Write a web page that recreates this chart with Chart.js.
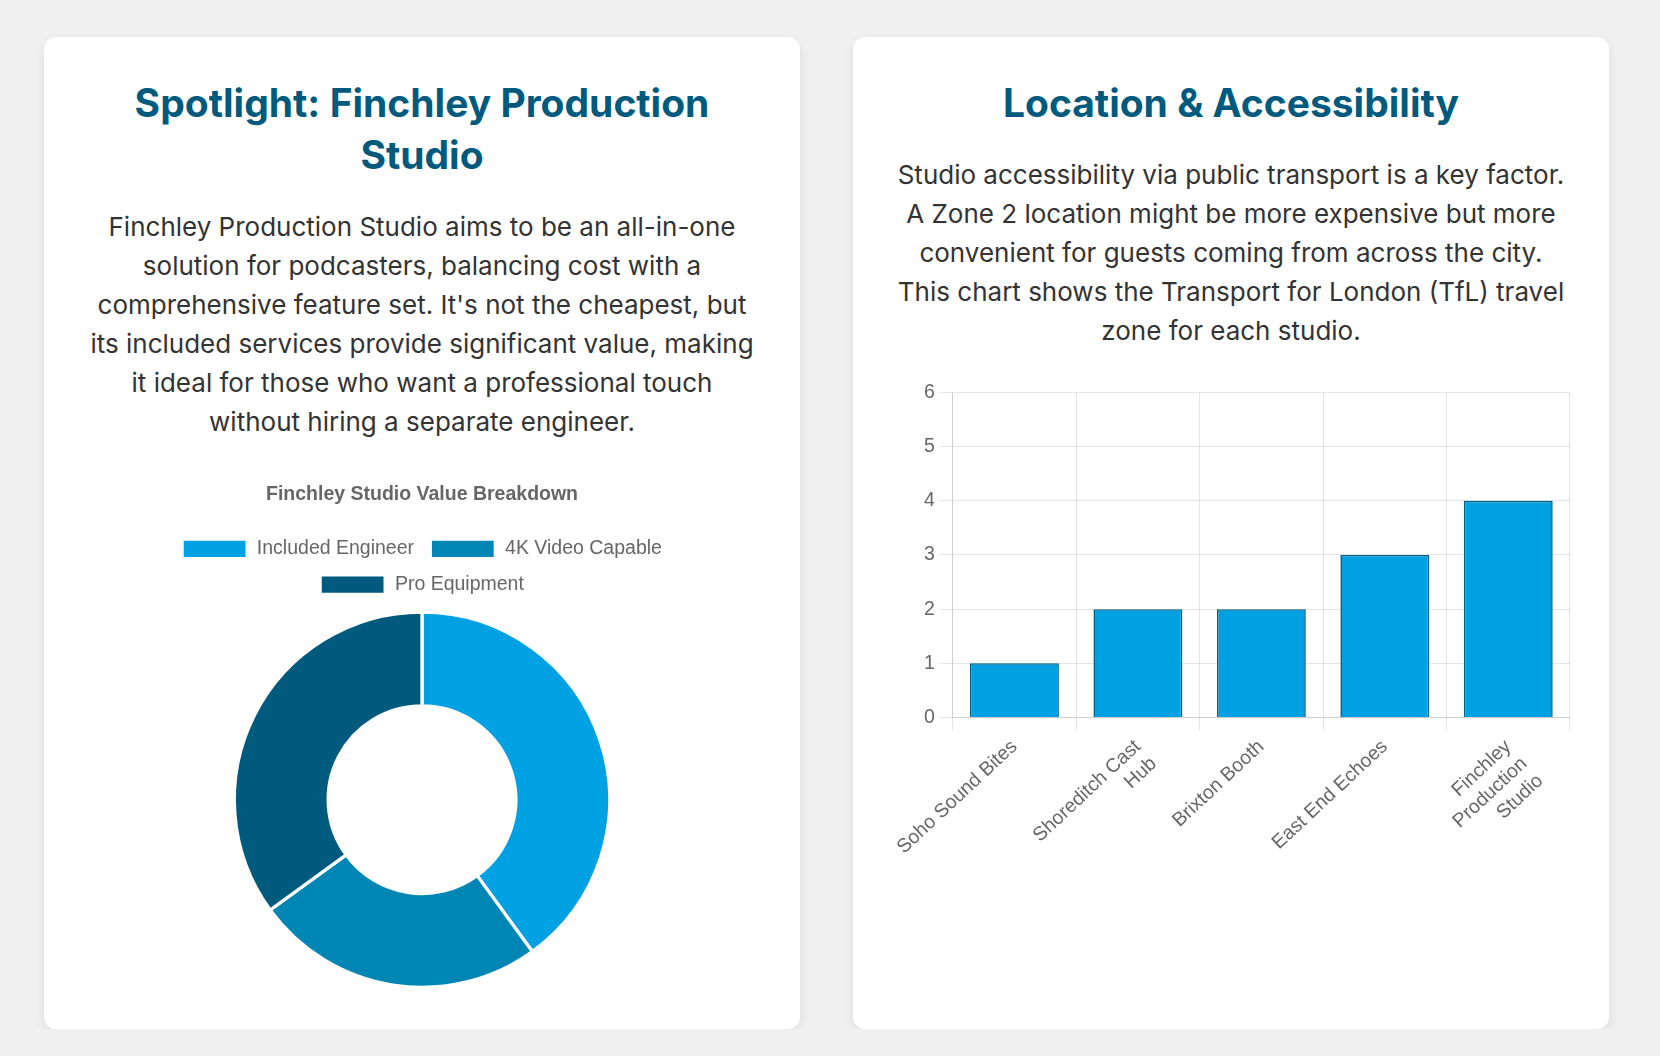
<!DOCTYPE html>
<html lang="en">
<head>
<meta charset="utf-8">
<title>London Podcast Studios</title>
<script src="https://cdn.jsdelivr.net/npm/chart.js@4.4.1/dist/chart.umd.min.js"></script>
<style>
  html, body { margin: 0; padding: 0; }
  body {
    background: #f0f0f0;
    font-family: Inter, "Noto Sans", sans-serif;
    color: #333;
  }
  .wrap {
    display: grid;
    grid-template-columns: 756px 756px;
    column-gap: 53px;
    padding: 37px 0 0 44px;
  }
  .card {
    background: #fff;
    border-radius: 12px;
    box-shadow: 0 4px 12px rgba(0, 0, 0, 0.08);
    padding: 40px 39px 39px;
    height: 992px;
    box-sizing: border-box;
    text-align: center;
  }
  .card h2 {
    margin: 0 0 26px;
    font-size: 39px;
    line-height: 52px;
    font-weight: 700;
    color: #005a7d;
  }
  .card p {
    margin: 0 0 26px;
    font-size: 26px;
    line-height: 39px;
  }
  .chart-box { position: relative; height: 522px; }
</style>
</head>
<body>
<div class="wrap">
  <div class="card">
    <h2>Spotlight: Finchley Production Studio</h2>
    <p>Finchley Production Studio aims to be an all-in-one solution for podcasters, balancing cost with a comprehensive feature set. It's not the cheapest, but its included services provide significant value, making it ideal for those who want a professional touch without hiring a separate engineer.</p>
    <div class="chart-box"><canvas id="valueChart"></canvas></div>
  </div>
  <div class="card">
    <h2>Location &amp; Accessibility</h2>
    <p>Studio accessibility via public transport is a key factor. A Zone 2 location might be more expensive but more convenient for guests coming from across the city. This chart shows the Transport for London (TfL) travel zone for each studio.</p>
    <div class="chart-box"><canvas id="zoneChart"></canvas></div>
  </div>
</div>
<script>
// donut: what the Finchley price includes
const valueLabels = ["Included Engineer", "4K Video Capable", "Pro Equipment"];
const valueShares = [40, 25, 35];
const valueColors = ["#00a1e2", "#0086b4", "#005a7d"];

// bars: TfL zone per studio (long names wrapped)
const studioNames = ["Soho Sound Bites", ["Shoreditch Cast", "Hub"], "Brixton Booth", "East End Echoes", ["Finchley", "Production", "Studio"]];
const tflZones = [1, 2, 2, 3, 4];
const zoneMax = 6;

Chart.defaults.font.size = 19.5;
Chart.defaults.color = "#666";

// a bit more room under the legend
const legendGap = {
  id: 'legendGap',
  beforeInit(chart) {
    const origFit = chart.legend.fit;
    chart.legend.fit = function () {
      origFit.call(this);
      this.height += 6;
    };
  }
};

new Chart(document.getElementById("valueChart"), {
  type: 'doughnut',
  data: {
    labels: valueLabels,
    datasets: [{
      data: valueShares,
      backgroundColor: valueColors,
      borderColor: "#fff",
      borderWidth: 3.25,
      hoverOffset: 6.5
    }]
  },
  options: {
    responsive: true,
    maintainAspectRatio: false,
    cutout: '50%',
    plugins: {
      title: {
        display: true,
        text: 'Finchley Studio Value Breakdown',
        padding: 16.25,
        font: { size: 19.5, weight: 'bold' }
      },
      legend: {
        position: 'top',
        labels: { boxWidth: 65, padding: 16.25 }
      }
    }
  },
  plugins: [legendGap]
});

new Chart(document.getElementById("zoneChart"), {
  type: 'bar',
  data: {
    labels: studioNames,
    datasets: [{
      label: 'TfL Zone',
      data: tflZones,
      backgroundColor: "#00a1e2",
      borderColor: "#005f85",
      borderWidth: 1.6
    }]
  },
  options: {
    responsive: true,
    maintainAspectRatio: false,
    plugins: { legend: { display: false } },
    scales: {
      y: {
        beginAtZero: true,
        max: zoneMax,
        ticks: { stepSize: 1, padding: 4.9 },
        grid: { tickLength: 13 }
      },
      x: {
        ticks: { padding: 4.9, minRotation: 43, maxRotation: 43 },
        grid: { tickLength: 13 }
      }
    }
  }
});
</script>
</body>
</html>
